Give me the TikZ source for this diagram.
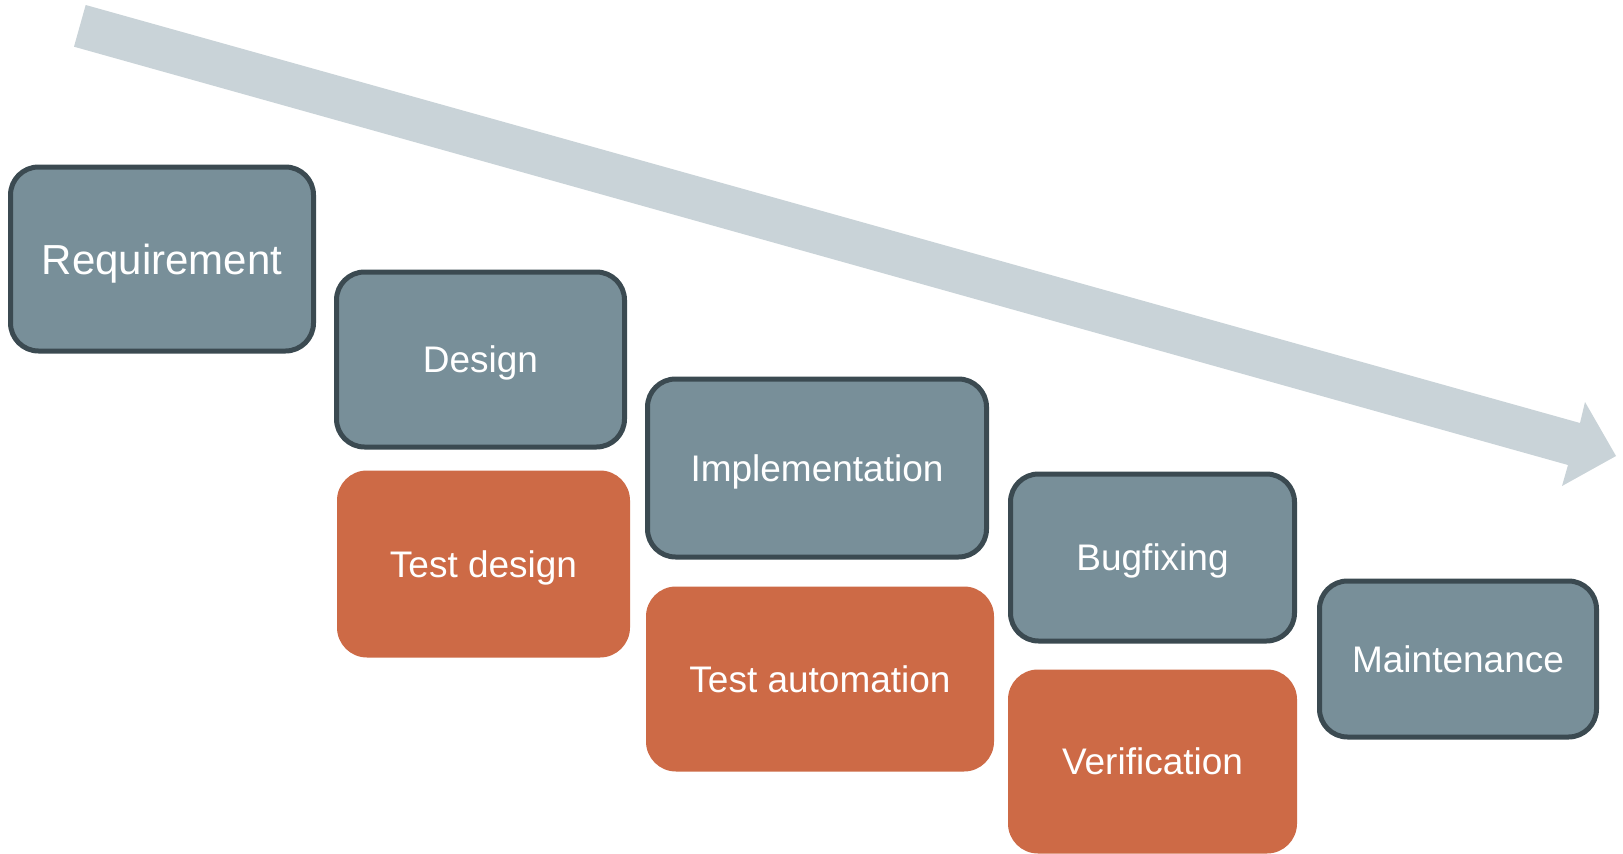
\documentclass[tikz,border=0pt]{standalone}
\usepackage{fontspec}
\setmainfont{Liberation Sans}
\definecolor{phasefill}{HTML}{788F99}
\definecolor{phaseline}{HTML}{3B4A51}
\definecolor{testfill}{HTML}{CD6A46}
\definecolor{flowarrow}{HTML}{C9D3D8}
\begin{document}
\begin{tikzpicture}[x=1pt,y=-1pt,
  phase/.style={draw=phaseline, line width=5pt, fill=phasefill, rounded corners=28pt,
    text=white, inner sep=0pt, text height=26.5pt, text depth=0pt,
    font=\fontsize{37}{40}\selectfont},
  testbox/.style={fill=testfill, rounded corners=30pt, text=white, inner sep=0pt,
    text height=26.5pt, text depth=0pt, font=\fontsize{37}{40}\selectfont}]
\useasboundingbox[fill=white] (0,0) rectangle (1623,854);
% flow arrow
\fill[flowarrow] (85.7,5) -- (1580,423) -- (1585,402) -- (1616,456) -- (1562,486) -- (1568,465) -- (74,46.7) -- cycle;
% phases
\node[phase, minimum width=303pt, minimum height=184pt, text height=30pt, font=\fontsize{42}{45}\selectfont] (req) at (162,259) {Requirement};
\node[phase, minimum width=288pt, minimum height=175pt] (des) at (480.5,359.5) {Design};
\node[testbox, minimum width=293pt, minimum height=187pt] (tdes) at (483.5,564) {Test design};
\node[phase, minimum width=339pt, minimum height=178pt] (impl) at (817,468) {Implementation};
\node[testbox, minimum width=348pt, minimum height=185pt] (tauto) at (820,679) {Test automation};
\node[phase, minimum width=284pt, minimum height=167pt] (bug) at (1152.5,557.5) {Bugfixing};
\node[testbox, minimum width=289pt, minimum height=184pt] (ver) at (1152.5,761.5) {Verification};
\node[phase, minimum width=277pt, minimum height=156pt] (maint) at (1458,659) {Maintenance};
\end{tikzpicture}
\end{document}
